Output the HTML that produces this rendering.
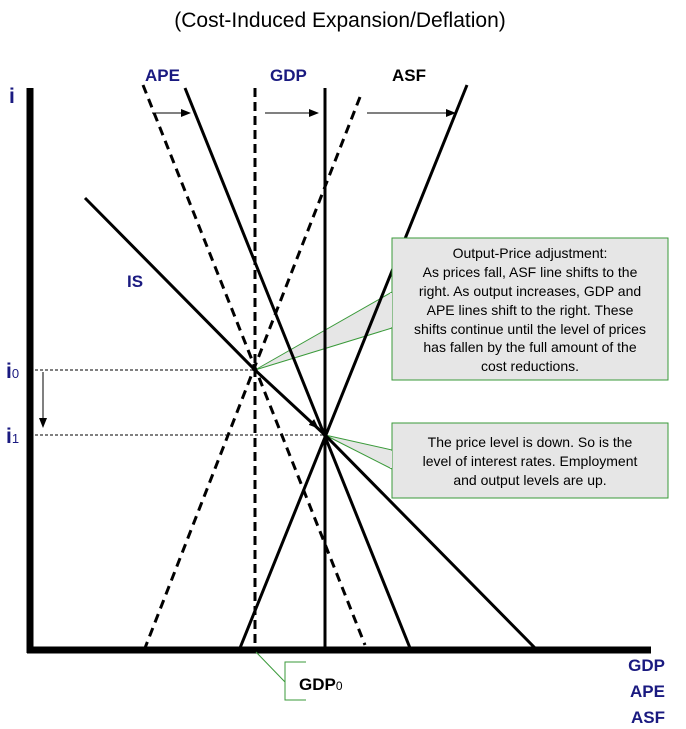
<!DOCTYPE html>
<html><head><meta charset="utf-8"><style>body{margin:0;background:#fff}svg{display:block}</style></head><body>
<svg width="686" height="729" viewBox="0 0 686 729" xmlns="http://www.w3.org/2000/svg" font-family="Liberation Sans, sans-serif">
<defs><marker id="a" markerWidth="10" markerHeight="8" refX="9" refY="4" orient="auto" markerUnits="userSpaceOnUse"><path d="M0,0 L10,4 L0,8 z" fill="#000"/></marker></defs>
<text x="340" y="27" font-size="21" text-anchor="middle">(Cost-Induced Expansion/Deflation)</text>
<!-- callout boxes -->
<polygon points="255,370 392,292 392,328" fill="#e6e6e6" stroke="#3a9a3a" stroke-width="1"/>
<polygon points="325,435 392,450 392,469" fill="#e6e6e6" stroke="#3a9a3a" stroke-width="1"/>
<!-- lines -->
<g stroke="#000" fill="none">
<line x1="35" y1="370" x2="255" y2="370" stroke-width="1" stroke-dasharray="3,2"/>
<line x1="35" y1="435" x2="325" y2="435" stroke-width="1" stroke-dasharray="3,2"/>
<line x1="143" y1="85" x2="365" y2="645" stroke-width="3" stroke-dasharray="9,6"/>
<line x1="255" y1="88" x2="255" y2="650" stroke-width="3" stroke-dasharray="9,5"/>
<line x1="360" y1="97" x2="145" y2="648" stroke-width="3" stroke-dasharray="9,6"/>
<line x1="185" y1="88" x2="410" y2="648" stroke-width="3"/>
<line x1="325" y1="88" x2="325" y2="650" stroke-width="3"/>
<line x1="467" y1="85" x2="240" y2="648" stroke-width="3"/>
<polyline points="85,198 255,370 325,435 535,648" stroke-width="3"/>
<line x1="30" y1="88" x2="30" y2="653" stroke-width="7"/>
<line x1="27" y1="650" x2="651" y2="650" stroke-width="7"/>
<line x1="152" y1="113" x2="190" y2="113" stroke-width="1" marker-end="url(#a)"/>
<line x1="265" y1="113" x2="318" y2="113" stroke-width="1" marker-end="url(#a)"/>
<line x1="367" y1="113" x2="455" y2="113" stroke-width="1" marker-end="url(#a)"/>
<line x1="43" y1="372" x2="43" y2="427" stroke-width="1" marker-end="url(#a)"/>
<line x1="262" y1="377" x2="318" y2="428" stroke-width="1" marker-end="url(#a)"/>
</g>
<rect x="392" y="238" width="276" height="142" fill="#e6e6e6" stroke="#3a9a3a" stroke-width="1"/>
<rect x="392" y="423" width="276" height="75" fill="#e6e6e6" stroke="#3a9a3a" stroke-width="1"/>
<line x1="391" y1="293" x2="391" y2="327" stroke="#e6e6e6" stroke-width="2"/>
<line x1="391" y1="451" x2="391" y2="468" stroke="#e6e6e6" stroke-width="2"/>
<g font-size="14" text-anchor="middle" fill="#000">
<text x="530" y="258">Output-Price adjustment:</text>
<text x="530" y="277">As prices fall, ASF line shifts to the</text>
<text x="530" y="296">right.  As output increases, GDP and</text>
<text x="530" y="315">APE lines shift to the right.  These</text>
<text x="530" y="334">shifts continue until the level of prices</text>
<text x="530" y="352">has fallen by the full amount of the</text>
<text x="530" y="371">cost reductions.</text>
<text x="530" y="447">The price level is down.  So is the</text>
<text x="530" y="466">level of interest rates.  Employment</text>
<text x="530" y="485">and output levels are up.</text>
</g>
<!-- GDP0 bracket -->
<g stroke="#3a9a3a" stroke-width="1" fill="none">
<line x1="256" y1="652" x2="285" y2="682"/>
<polyline points="306,662 285,662 285,700 306,700"/>
</g>
<text x="299" y="690" font-size="17" font-weight="bold">GDP<tspan font-size="12" font-weight="normal">0</tspan></text>
<g fill="#1a1a80" font-weight="bold" font-size="17">
<text x="145" y="81">APE</text>
<text x="270" y="81">GDP</text>
<text x="392" y="81" fill="#000">ASF</text>
<text x="9" y="103" font-size="21">i</text>
<text x="127" y="287">IS</text>
<text x="6" y="378" font-size="21">i<tspan font-size="13" font-weight="normal">0</tspan></text>
<text x="6" y="443" font-size="21">i<tspan font-size="13" font-weight="normal">1</tspan></text>
<text x="665" y="671" text-anchor="end">GDP</text>
<text x="665" y="697" text-anchor="end">APE</text>
<text x="665" y="723" text-anchor="end">ASF</text>
</g>
</svg>
</body></html>
